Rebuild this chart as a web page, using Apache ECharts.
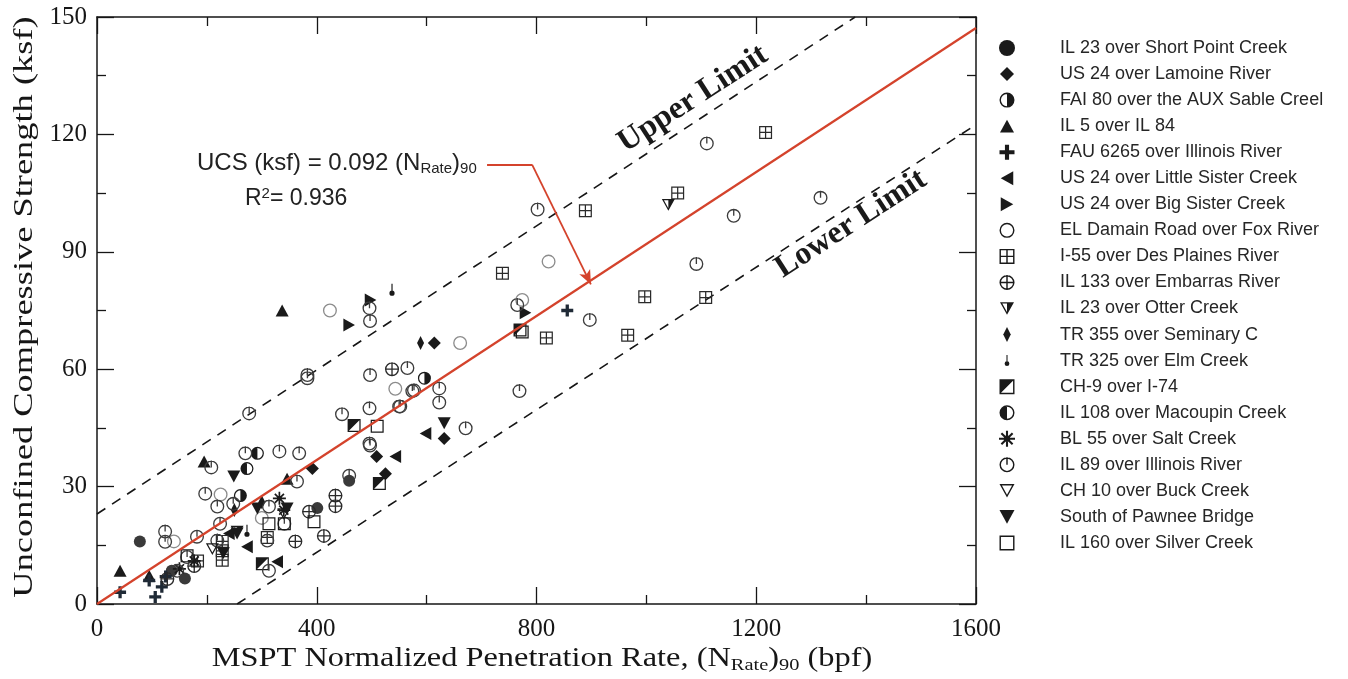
<!DOCTYPE html>
<html>
<head>
<meta charset="utf-8">
<title>UCS vs MSPT Normalized Penetration Rate</title>
<script src="https://cdn.jsdelivr.net/npm/echarts@6.0.0/dist/echarts.min.js"></script>
<style>
  html, body { margin: 0; padding: 0; background: #fff; }
  #main { width: 1348px; height: 679px; }
</style>
</head>
<body>
<div id="main"></div>
<script>
// ---- data: [(N_Rate)90 in bpf, UCS in ksf] ----
const shortPoint = [[78, 16], [160, 6.5], [459, 31.5], [401, 24.5], [136, 8.5]];
const lamoine = [[632, 42.3], [509, 37.7], [525, 33.3], [614, 66.7], [392, 34.6]];
const auxSable = [[596, 57.7], [261, 27.7]];
const il5 = [[337, 75], [42, 8.5], [195, 36.4], [95, 7.2], [346, 32]];
const fau6265 = [[856, 75], [42, 3], [106, 1.8], [118, 4.4], [125, 7], [95, 6]];
const littleSister = [[598, 43.6], [543, 37.7], [328, 10.8], [273, 14.6], [240, 18]];
const bigSister = [[459, 71.3], [498, 77.7], [780, 74.4]];
const elDamain = [[424, 75], [822, 87.5], [543, 55], [661, 66.7], [774, 77.7], [225, 28], [140, 16], [300, 22]];
const desPlaines = [[889, 100.5], [1217, 120.5], [1057, 105], [997, 78.5], [1108, 78.3], [966, 68.7], [738, 84.5],
  [818, 68], [228, 16], [228, 13.6], [228, 11.2], [310, 17], [183, 11]];
const embarras = [[537, 60], [434, 27.7], [434, 25], [386, 23.6], [361, 16], [413, 17.4], [177, 9.7], [128, 6.4]];
const otter = [[1040, 102], [255, 18.5]];
const seminary = [[589, 66.7], [300, 26], [250, 24]];
const elmCreek = [[537, 80.3], [273, 18.7]];
const ch9 = [[468, 45.6], [514, 30.8], [301, 10.3], [770, 70]];
const macoupin = [[292, 38.5], [273, 34.6]];
const saltCreek = [[177, 11], [332, 27], [340, 24], [150, 9]];
const il89 = [[1110, 117.7], [1159, 99.2], [1317, 103.8], [1091, 86.9], [802, 100.8], [897, 72.6], [769, 54.4],
  [765, 76.4], [671, 44.9], [565, 60.3], [496, 75.6], [497, 72.3], [383, 58.5], [497, 58.5], [277, 48.7],
  [577, 54.6], [623, 55.1], [623, 51.5], [550, 50.5], [496, 50], [446, 48.5], [496, 41], [208, 34.9],
  [197, 28.2], [219, 24.9], [248, 25.6], [224, 20.5], [124, 18.5], [124, 15.9], [182, 17.2], [219, 16.2],
  [270, 38.5], [332, 39], [368, 38.5], [364, 31.3], [313, 24.9], [310, 16.2], [341, 20.5], [497, 40.5],
  [459, 32.8], [313, 8.5], [146, 8.5], [164, 12], [574, 54.4], [552, 50.5], [383, 57.7]];
const buckCreek = [[340, 23], [210, 14]];
const pawnee = [[249, 32.6], [632, 46.2], [255, 18], [292, 24.4], [346, 24.4], [230, 13]];
const silverCreek = [[510, 45.4], [313, 20.5], [341, 20.5], [164, 12.3], [774, 69.5], [395, 21]];

// regression and limit lines (UCS = 0.092 (N_Rate)90, +/- band)
const fitLine = [[0, 0], [1600, 147.2]];
const upperLine = [[0, 23], [1380, 150]];
const lowerLine = [[255, 0], [1600, 122.5]];
const leaderPts = [[710, 112.3], [792, 112.3], [899, 81.7]];

const xTicks = [0, 1600, 400];   // min, max, step
const yTicks = [0, 150, 30];

// ---- marker shapes (filled paths, holes by reversed winding) ----
function circ(cx, cy, r, cw) {
  const s = cw ? 1 : 0;
  return 'M' + (cx - r) + ' ' + cy + 'A' + r + ' ' + r + ' 0 1 ' + s + ' ' + (cx + r) + ' ' + cy +
    'A' + r + ' ' + r + ' 0 1 ' + s + ' ' + (cx - r) + ' ' + cy + 'Z';
}
function poly(pts) {
  return 'M' + pts.map(p => p[0].toFixed(2) + ' ' + p[1].toFixed(2)).join('L') + 'Z';
}
function bar(x1, y1, x2, y2, w) {
  const dx = x2 - x1, dy = y2 - y1, l = Math.hypot(dx, dy);
  const nx = -dy / l * w / 2, ny = dx / l * w / 2;
  return poly([[x1 - nx, y1 - ny], [x2 - nx, y2 - ny], [x2 + nx, y2 + ny], [x1 + nx, y1 + ny]]);
}
const T = 1.9;
const ring = circ(10, 10, 10, true) + circ(10, 10, 10 - T, false);
const sqRing = poly([[0, 0], [20, 0], [20, 20], [0, 20]]) + poly([[T, T], [T, 20 - T], [20 - T, 20 - T], [20 - T, T]]);
function downTriRing() {
  const v = [[0, 1], [20, 1], [10, 19]];
  const ix = 10, iy = 6.88, k = (5.88 - T) / 5.88;
  const inner = v.map(p => [ix + k * (p[0] - ix), iy + k * (p[1] - iy)]).reverse();
  return poly(v) + poly(inner);
}
const sym = {
  disk: circ(10, 10, 10, true),
  diamond: poly([[10, 0], [20, 10], [10, 20], [0, 10]]),
  halfRight: ring + 'M10 0A10 10 0 0 1 10 20Z',
  up: poly([[10, 1], [19.5, 18.5], [0.5, 18.5]]),
  plus: bar(10, 0, 10, 20, 5.5) + bar(0, 10, 20, 10, 5.5),
  left: poly([[1.5, 10], [18.5, 0.5], [18.5, 19.5]]),
  right: poly([[1.5, 0.5], [18.5, 10], [1.5, 19.5]]),
  open: ring,
  grid: sqRing + bar(10, 0, 10, 20, T) + bar(0, 10, 20, 10, T),
  circPlus: ring + bar(10, 0, 10, 20, T) + bar(0, 10, 20, 10, T),
  halfTri: downTriRing() + poly([[10, 1], [20, 1], [10, 19]]),
  narrow: poly([[10, 0], [15, 10], [10, 20], [5, 10]]),
  pin: bar(10, 0, 10, 12, 1.8) + circ(10, 14.5, 4, true),
  diagSq: sqRing + poly([[0, 0], [20, 0], [0, 20]]),
  halfLeft: ring + 'M10 20A10 10 0 0 1 10 0Z',
  star: bar(10, 0, 10, 20, 2.6) + bar(0, 10, 20, 10, 2.6) + bar(3, 3, 17, 17, 2.6) + bar(17, 3, 3, 17, 2.6) + circ(10, 10, 4, true),
  tick: ring + bar(10, 0, 10, 10, T),
  openDown: downTriRing(),
  down: poly([[0.5, 1.5], [19.5, 1.5], [10, 19]]),
  square: sqRing
};

// name, data, shape, size in plot, colour in plot, legend icon size [w, h]
const groups = [
  ['IL 23 over Short Point Creek', shortPoint, sym.disk, 12, '#3a3a3a', [16, 16]],
  ['US 24 over Lamoine River', lamoine, sym.diamond, 13, '#1a1a1a', [14, 14]],
  ['FAI 80 over the AUX Sable Creel', auxSable, sym.halfRight, 13, '#1a1a1a', [15, 15]],
  ['IL 5 over IL 84', il5, sym.up, 13, '#1a1a1a', [14, 13]],
  ['FAU 6265 over Illinois River', fau6265, sym.plus, 12, '#1f2a36', [15, 15]],
  ['US 24 over Little Sister Creek', littleSister, sym.left, 13, '#1a1a1a', [13, 14]],
  ['US 24 over Big Sister Creek', bigSister, sym.right, 13, '#1a1a1a', [13, 14]],
  ['EL Damain Road over Fox River', elDamain, sym.open, 14, '#8c8c8c', [15, 15]],
  ['I-55 over Des Plaines River', desPlaines, sym.grid, 13, '#2a2a2a', [15, 15]],
  ['IL 133 over Embarras River', embarras, sym.circPlus, 14, '#2a2a2a', [15, 15]],
  ['IL 23 over Otter Creek', otter, sym.halfTri, 13, '#1a1a1a', [14, 13]],
  ['TR 355 over Seminary C', seminary, sym.narrow, 14, '#1a1a1a', [8, 15]],
  ['TR 325 over Elm Creek', elmCreek, sym.pin, 12, '#1a1a1a', [5, 11]],
  ['CH-9 over I-74', ch9, sym.diagSq, 13, '#1a1a1a', [15, 15]],
  ['IL 108 over Macoupin Creek', macoupin, sym.halfLeft, 13, '#1a1a1a', [15, 15]],
  ['BL 55 over Salt Creek', saltCreek, sym.star, 13, '#1a1a1a', [16, 16]],
  ['IL 89 over Illinois River', il89, sym.tick, 14, '#3c3c3c', [15, 16]],
  ['CH 10 over Buck Creek', buckCreek, sym.openDown, 13, '#1a1a1a', [15, 14]],
  ['South of Pawnee Bridge', pawnee, sym.down, 13, '#1a1a1a', [15, 14]],
  ['IL 160 over Silver Creek', silverCreek, sym.square, 13, '#1a1a1a', [15, 15]]
];

const serif = '"Liberation Serif", "Times New Roman", serif';
const sans = '"Liberation Sans", Arial, sans-serif';
const ink = '#161616';
const red = '#d4432c';

function tickAxis(extra) {
  return Object.assign({
    type: 'value',
    axisLine: { show: true, onZero: false, lineStyle: { color: ink, width: 1.5 } },
    axisTick: { show: true, inside: true, length: 17, lineStyle: { color: ink, width: 1.3 } },
    minorTick: { show: true, splitNumber: 2, length: 9, lineStyle: { color: ink, width: 1.3 } },
    splitLine: { show: false },
    minorSplitLine: { show: false }
  }, extra);
}

const scatterSeries = groups.map(g => ({
  name: g[0],
  type: 'scatter',
  data: g[1],
  symbol: 'path://' + g[2],
  symbolSize: g[3],
  symbolKeepAspect: true,
  itemStyle: { color: g[4], opacity: 1 },
  z: 4
}));

// legend: icons through a custom series (same marker paths), names as text
const legendTop = 48, legendStep = 26.05, legendIconX = 1007, legendTextX = 1060;
const legendIcons = {
  name: 'legend', type: 'custom', coordinateSystem: 'none', silent: true, z: 10,
  data: groups.map((g, i) => i),
  renderItem: function (params) {
    const g = groups[params.dataIndex];
    const cy = legendTop + params.dataIndex * legendStep;
    const w = g[5][0], h = g[5][1];
    return {
      type: 'path',
      shape: { pathData: g[2], x: legendIconX - w / 2, y: cy - h / 2, width: w, height: h, layout: 'center' },
      style: { fill: '#1a1a1a' }
    };
  }
};
const legendTexts = groups.map((g, i) => ({
  type: 'text', x: legendTextX, y: legendTop + i * legendStep, z: 10,
  style: { text: g[0], fontFamily: sans, fontSize: 18, fill: '#262626', verticalAlign: 'middle' }
}));

const chart = echarts.init(document.getElementById('main'), null, { renderer: 'canvas' });
chart.setOption({
  animation: false,
  backgroundColor: '#fff',
  grid: { left: 97, right: 372, top: 17, bottom: 75, containLabel: false },
  xAxis: [
    tickAxis({
      min: xTicks[0], max: xTicks[1], interval: xTicks[2], position: 'bottom',
      axisLabel: { fontFamily: serif, fontSize: 25, color: ink, margin: 13, formatter: v => String(v) }
    }),
    tickAxis({
      min: xTicks[0], max: xTicks[1], interval: xTicks[2], position: 'top',
      axisLabel: { show: false }
    })
  ],
  yAxis: [
    tickAxis({
      min: yTicks[0], max: yTicks[1], interval: yTicks[2], position: 'left',
      axisLabel: { fontFamily: serif, fontSize: 25, color: ink, margin: 10, formatter: v => String(v) }
    }),
    tickAxis({
      min: yTicks[0], max: yTicks[1], interval: yTicks[2], position: 'right',
      axisLabel: { show: false }
    })
  ],
  series: [
    {
      name: 'fit', type: 'line', data: fitLine, showSymbol: false, z: 5,
      lineStyle: { color: red, width: 2.2 },
      markLine: {
        silent: true, symbol: ['none', 'none'], animation: false,
        label: { show: false },
        lineStyle: { color: red, width: 1.8, type: 'solid' },
        data: [
          [{ coord: leaderPts[0], symbol: 'none' }, { coord: leaderPts[1], symbol: 'none' }],
          [{ coord: leaderPts[1], symbol: 'none' }, { coord: leaderPts[2], symbol: 'arrow', symbolSize: [9, 14] }]
        ]
      }
    },
    {
      name: 'upper', type: 'line', data: upperLine, showSymbol: false, z: 3,
      lineStyle: { color: ink, width: 1.6, type: [10, 8] }
    },
    {
      name: 'lower', type: 'line', data: lowerLine, showSymbol: false, z: 3,
      lineStyle: { color: ink, width: 1.6, type: [10, 8] }
    },
    legendIcons
  ].concat(scatterSeries),
  graphic: [
    // axis titles (the source lettering is wide, so it is stretched along the line)
    {
      type: 'text', x: 25, y: 307, rotation: Math.PI / 2, scaleX: 1.3, z: 10,
      style: {
        text: 'Unconfined Compressive Strength (ksf)', fontFamily: serif, fontSize: 28,
        fill: ink, align: 'center', verticalAlign: 'middle'
      }
    },
    {
      type: 'text', x: 542, y: 659, scaleX: 1.2, z: 10,
      style: {
        text: 'MSPT Normalized Penetration Rate, (N{sub|Rate}){sub|90} (bpf)',
        fontFamily: serif, fontSize: 27, fill: ink, align: 'center', verticalAlign: 'middle',
        rich: { sub: { fontFamily: serif, fontSize: 17, fill: ink, padding: [13, 0, 0, 0] } }
      }
    },
    {
      type: 'text', x: 197, y: 163, z: 10,
      style: {
        text: 'UCS (ksf) = 0.092 (N{sub|Rate}){sub|90}',
        fontFamily: sans, fontSize: 24, fill: '#222', verticalAlign: 'middle',
        rich: { sub: { fontFamily: sans, fontSize: 15, fill: '#222', padding: [11, 0, 0, 0] } }
      }
    },
    {
      type: 'text', x: 245, y: 199, z: 10,
      style: {
        text: 'R{sup|2}= 0.936',
        fontFamily: sans, fontSize: 23, fill: '#222', verticalAlign: 'middle',
        rich: { sup: { fontFamily: sans, fontSize: 15, fill: '#222', padding: [0, 0, 10, 0] } }
      }
    },
    {
      type: 'text', x: 693, y: 99, rotation: 0.575, z: 10,
      style: {
        text: 'Upper Limit', fontFamily: serif, fontWeight: 'bold', fontSize: 32,
        fill: '#1a1a1a', align: 'center', verticalAlign: 'middle'
      }
    },
    {
      type: 'text', x: 851, y: 224, rotation: 0.575, z: 10,
      style: {
        text: 'Lower Limit', fontFamily: serif, fontWeight: 'bold', fontSize: 32,
        fill: '#1a1a1a', align: 'center', verticalAlign: 'middle'
      }
    }
  ].concat(legendTexts)
});
</script>
</body>
</html>
